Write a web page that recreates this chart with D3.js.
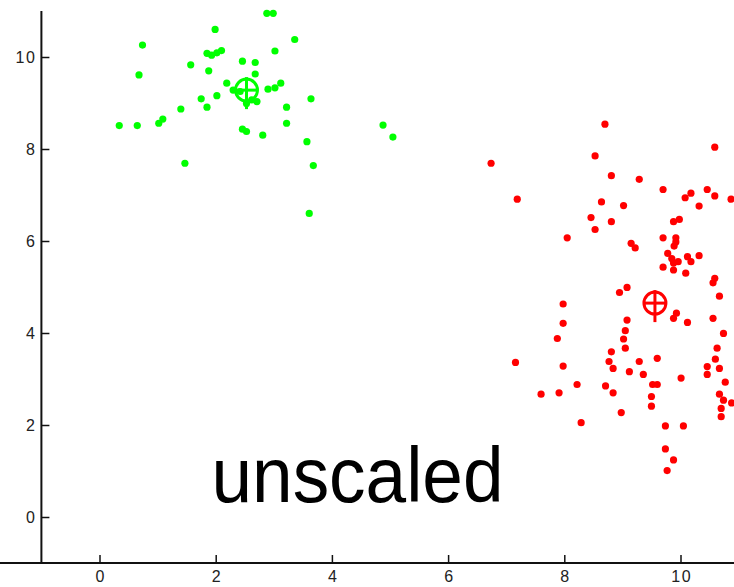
<!DOCTYPE html>
<html><head><meta charset="utf-8">
<script src="https://cdn.jsdelivr.net/npm/d3@7"></script>
<style>body{margin:0;background:#fff;overflow:hidden}svg{display:block}</style>
</head><body>
<script>
// Cluster 1 (green) points [x, y]
const greenX = [2.88,2.99,1.99,0.74,3.36,1.85,1.93,2.02,2.10,3.02,2.46,2.68,1.57,0.68,1.88,2.19,3.12,2.02,1.75,1.85,1.40,3.22,3.64,1.09,1.02,0.34,0.65,3.22,2.46,2.53,2.81,3.57,1.47,3.68,3.61,4.88,5.05,2.68,2.42,2.62,2.90,3.02,2.71,2.53,2.30];
const greenY = [10.95,10.95,10.60,10.26,10.38,10.08,10.04,10.09,10.14,10.13,9.91,9.88,9.83,9.61,9.70,9.43,9.43,9.16,9.09,8.91,8.87,8.91,9.09,8.65,8.56,8.51,8.51,8.56,8.43,8.38,8.30,8.16,7.69,7.64,6.60,8.52,8.26,9.63,9.25,9.07,9.30,9.33,9.03,8.99,9.28];
// Cluster 2 (red) points
const redX = [8.70,10.59,6.74,8.53,8.81,9.29,7.19,9.70,10.08,10.18,10.46,10.59,10.87,10.32,8.64,9.02,8.46,8.81,8.53,9.88,9.98,8.05,9.70,9.92,9.92,9.89,9.15,9.22,9.78,9.85,9.88,9.96,10.12,10.18,10.32,9.70,9.88,10.09,10.59,10.56,9.08,8.95,10.67,7.98,9.93,9.88,10.12,9.08,10.56,7.98,9.05,9.02,7.88,10.74,9.05,10.63,8.81,10.60,7.16,7.98,8.77,8.84,9.29,9.60,10.46,10.46,10.67,9.12,9.36,10.01,10.77,9.52,9.60,8.22,8.71,8.84,7.60,7.91,9.50,10.67,10.74,10.88,9.50,10.70,8.98,10.70,8.29,9.74,10.05,9.74,9.88,9.77];
const redY = [8.54,8.04,7.69,7.85,7.42,7.34,6.91,7.12,6.94,7.04,7.12,6.98,6.91,6.76,6.85,6.77,6.51,6.42,6.25,6.42,6.47,6.07,6.07,6.07,5.98,5.89,5.95,5.85,5.73,5.62,5.52,5.55,5.66,5.55,5.68,5.43,5.37,5.30,5.19,5.09,4.99,4.88,4.80,4.63,4.43,4.32,4.23,4.28,4.32,4.21,4.05,3.87,3.88,3.99,3.67,3.67,3.59,3.43,3.36,3.28,3.38,3.23,3.38,3.45,3.27,3.10,3.23,3.16,3.10,3.02,2.93,2.88,2.88,2.88,2.85,2.70,2.67,2.70,2.62,2.67,2.54,2.48,2.41,2.36,2.27,2.18,2.05,1.98,1.98,1.48,1.24,1.01];
// centroids
const centroidX = [2.53, 9.56];
const centroidY = [9.28, 4.65];
const clusterColors = ["#00ff00", "#ff0000"];
const xTicks = [0, 2, 4, 6, 8, 10];
const yTicks = [0, 2, 4, 6, 8, 10];
const title = "unscaled";

const W = 734, H = 587;
const svg = d3.select("body").append("svg").attr("width", W).attr("height", H);
const x = d3.scaleLinear().domain([-1, 11]).range([41.4, 738.6]);
const y = d3.scaleLinear().domain([-1, 11]).range([563, 11]);

// axes
const xAxis = d3.axisBottom(x).tickValues(xTicks).tickSizeInner(-8).tickSizeOuter(0).tickPadding(7.5).tickFormat(d3.format("d"));
const yAxis = d3.axisLeft(y).tickValues(yTicks).tickSizeInner(-8).tickSizeOuter(0).tickPadding(5).tickFormat(d3.format("d"));
const gx = svg.append("g").attr("transform", `translate(0,${y(-1)})`).call(xAxis);
const gy = svg.append("g").attr("transform", `translate(${x(-1)},0)`).call(yAxis);
[gx, gy].forEach(g => {
  g.select(".domain").attr("stroke", "#111").attr("stroke-width", 2);
  g.selectAll(".tick line").attr("stroke", "#111").attr("stroke-width", 1.5);
  g.selectAll(".tick text").attr("fill", "#222").style("font-family", "Liberation Sans, Arial, sans-serif").style("font-size", "16px").style("letter-spacing", "1.5px");
});
gx.selectAll(".tick text").attr("dx", "0.75px");
gy.select(".domain").attr("d", `M0,${y(-1)}V${y(11)}`);
gx.select(".domain").attr("d", `M0,0H${W + 10}`);

// points
function drawPts(xs, ys, col) {
  svg.append("g").selectAll("circle").data(xs.map((v, i) => [v, ys[i]])).join("circle")
    .attr("cx", d => x(d[0])).attr("cy", d => y(d[1])).attr("r", 3.6).attr("fill", col);
}
drawPts(greenX, greenY, clusterColors[0]);
drawPts(redX, redY, clusterColors[1]);

// centroids: circle + cross
centroidX.forEach((cx, i) => {
  const px = x(cx), py = y(centroidY[i]), col = clusterColors[i];
  const g = svg.append("g").attr("stroke", col).attr("stroke-width", 3).attr("fill", "none");
  g.append("circle").attr("cx", px).attr("cy", py).attr("r", 11);
  g.append("line").attr("x1", px).attr("x2", px).attr("y1", py - 13).attr("y2", py + 19);
  g.append("line").attr("x1", px - 11).attr("x2", px + 11).attr("y1", py).attr("y2", py);
});

// label
svg.append("text").attr("x", 357.5).attr("y", 502).attr("text-anchor", "middle")
  .style("font-family", "Liberation Sans, Arial, sans-serif").style("font-size", "78px")
  .attr("textLength", 292).attr("lengthAdjust", "spacingAndGlyphs")
  .attr("fill", "#000").text(title);
</script>
</body></html>
